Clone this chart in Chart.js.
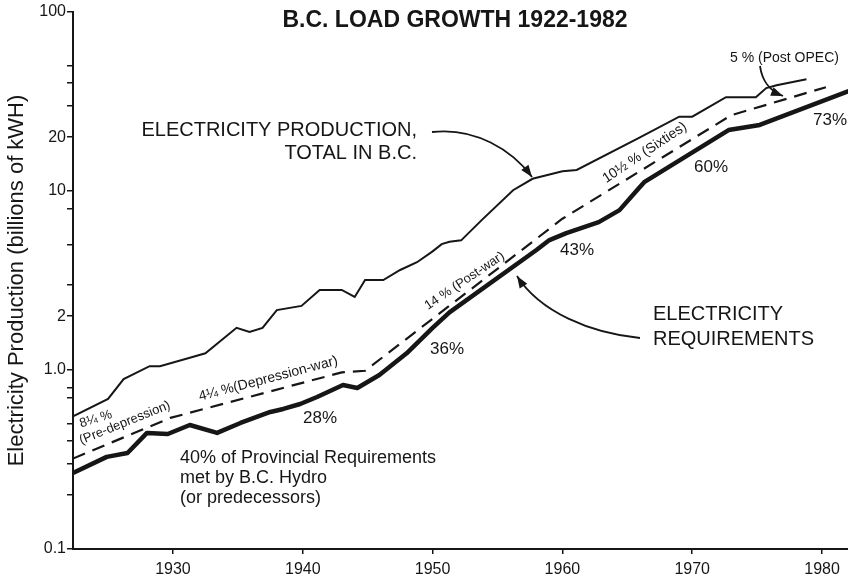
<!DOCTYPE html>
<html>
<head>
<meta charset="utf-8">
<script src="https://cdn.jsdelivr.net/npm/chart.js@4.4.1/dist/chart.umd.min.js"></script>
<style>
html, body { margin: 0; padding: 0; background: #fff; }
canvas { display: block; }
</style>
</head>
<body>
<canvas id="loadChart" width="848" height="579"></canvas>
<script>
/* DATA (billions of kWh, log scale) */
const prodYears  = [1922.3, 1925, 1926.2, 1928.2, 1929, 1931.3, 1932.5, 1934.9, 1935.9, 1936.9, 1938, 1939.9,
                    1941.3, 1943, 1944, 1944.8, 1946.2, 1947.5, 1948.8, 1950, 1950.7, 1951.3, 1952.2, 1953.8,
                    1956.2, 1957.7, 1960, 1961.1, 1965.9, 1969, 1970, 1972.6, 1974.9, 1975.7, 1976.5, 1978.8];
const prodValues = [0.55, 0.69, 0.89, 1.05, 1.05, 1.17, 1.24, 1.72, 1.63, 1.72, 2.16, 2.28,
                    2.8, 2.8, 2.56, 3.18, 3.18, 3.62, 4.0, 4.6, 5.05, 5.2, 5.3, 6.9,
                    10.1, 11.7, 12.9, 13.1, 19.8, 26, 26, 33.4, 33.4, 37.6, 39, 42.1];

const trendYears  = [1922.3, 1929.8, 1943, 1944.8, 1960, 1973, 1980.3];
const trendValues = [0.32, 0.54, 0.97, 0.99, 7.0, 26.5, 38];

const reqYears  = [1922.3, 1924.9, 1926.5, 1928, 1929.6, 1931.3, 1933.4, 1935.2, 1937.5, 1938.5, 1939.8,
                   1941.1, 1943.1, 1944.2, 1945.9, 1948, 1950, 1951.3, 1958, 1959, 1960.3, 1962.8, 1964.4,
                   1965.9, 1966.3, 1972.8, 1975.2, 1982];
const reqValues = [0.266, 0.327, 0.344, 0.445, 0.439, 0.493, 0.445, 0.506, 0.583, 0.606, 0.646,
                   0.707, 0.824, 0.793, 0.938, 1.24, 1.72, 2.1, 4.68, 5.32, 5.82, 6.7, 7.82,
                   10.4, 11.2, 21.9, 23.4, 36];

const xTickYears  = [1930, 1940, 1950, 1960, 1970, 1980];
const yTickValues = [0.1, 0.2, 0.3, 0.4, 0.5, 0.7, 0.8, 1, 2, 3, 5, 8, 10, 20, 30, 40, 50, 100];
const yLabelValues = [0.1, 1, 2, 10, 20, 100];
const yLabelText   = ['0.1', '1.0', '2', '10', '20', '100'];

const shareLabels = ['28%', '36%', '43%', '60%', '73%'];
const growthLabels = ['8¼ %', '(Pre-depression)', '4¼ %(Depression-war)', '14 % (Post-war)', '10½ % (Sixties)', '5 % (Post OPEC)'];

const INK  = '#161616';
const FONT = '"Liberation Sans", Arial, Helvetica, sans-serif';

const toXY = (xs, ys) => xs.map((x, i) => ({x: x, y: ys[i]}));

/* ── helpers for the annotations ── */
function text(ctx, s, x, y, size, align, angle) {
    ctx.save();
    ctx.font = size + 'px ' + FONT;
    ctx.fillStyle = INK;
    ctx.textAlign = align || 'left';
    ctx.textBaseline = 'middle';
    ctx.translate(x, y);
    if (angle) ctx.rotate(angle * Math.PI / 180);
    ctx.fillText(s, 0, 0);
    ctx.restore();
}

function curvedArrow(ctx, p0, c1, c2, p1) {
    ctx.save();
    ctx.strokeStyle = INK;
    ctx.fillStyle = INK;
    ctx.lineWidth = 1.8;
    ctx.beginPath();
    ctx.moveTo(p0[0], p0[1]);
    ctx.bezierCurveTo(c1[0], c1[1], c2[0], c2[1], p1[0], p1[1]);
    ctx.stroke();
    const a = Math.atan2(p1[1] - c2[1], p1[0] - c2[0]);
    const len = 12, half = 4.5;
    ctx.beginPath();
    ctx.moveTo(p1[0], p1[1]);
    ctx.lineTo(p1[0] - len * Math.cos(a) + half * Math.sin(a), p1[1] - len * Math.sin(a) - half * Math.cos(a));
    ctx.lineTo(p1[0] - len * Math.cos(a) - half * Math.sin(a), p1[1] - len * Math.sin(a) + half * Math.cos(a));
    ctx.closePath();
    ctx.fill();
    ctx.restore();
}

const annotations = {
    id: 'annotations',
    afterDraw(chart) {
        const ctx = chart.ctx;

        ctx.save();
        ctx.font = 'bold 23px ' + FONT;
        ctx.fillStyle = INK;
        ctx.textAlign = 'center';
        ctx.textBaseline = 'middle';
        ctx.fillText('B.C. LOAD GROWTH 1922-1982', 455, 21);
        ctx.restore();

        text(ctx, 'ELECTRICITY PRODUCTION,', 417, 130, 20, 'right');
        text(ctx, 'TOTAL IN B.C.', 417, 153, 20, 'right');
        curvedArrow(ctx, [432, 132], [475, 127], [512, 150], [532, 177]);

        text(ctx, 'ELECTRICITY', 653, 314, 20);
        text(ctx, 'REQUIREMENTS', 653, 339, 20);
        curvedArrow(ctx, [640, 338], [590, 333], [540, 312], [517, 276]);

        text(ctx, growthLabels[5], 730, 58, 14);
        curvedArrow(ctx, [760, 66], [762, 80], [768, 90], [783, 96]);

        text(ctx, '40% of Provincial Requirements', 180, 458, 18);
        text(ctx, 'met by B.C. Hydro', 180, 478, 18);
        text(ctx, '(or predecessors)', 180, 498, 18);

        const sharePos = [[320, 418], [447, 349], [577, 250], [711, 167], [830, 120]];
        shareLabels.forEach((s, i) => text(ctx, s, sharePos[i][0], sharePos[i][1], 17, 'center'));

        text(ctx, growthLabels[0], 80, 424, 13, 'left', -17);
        text(ctx, growthLabels[1], 80, 441, 13, 'left', -22);
        text(ctx, growthLabels[2], 199, 397, 14, 'left', -14.7);
        text(ctx, growthLabels[3], 426, 307, 13, 'left', -34);
        text(ctx, growthLabels[4], 604, 180, 14, 'left', -33.8);
    }
};

new Chart(document.getElementById('loadChart'), {
    type: 'line',
    data: {
        datasets: [
            {label: 'Electricity production, total in B.C.', data: toXY(prodYears, prodValues),
             borderColor: INK, borderWidth: 2, pointRadius: 0, tension: 0, fill: false},
            {label: 'Growth trend', data: toXY(trendYears, trendValues),
             borderColor: INK, borderWidth: 2.2, borderDash: [13, 8], pointRadius: 0, tension: 0, fill: false},
            {label: 'Electricity requirements', data: toXY(reqYears, reqValues),
             borderColor: INK, borderWidth: 4.5, pointRadius: 0, tension: 0, fill: false,
             borderJoinStyle: 'round', borderCapStyle: 'round'}
        ]
    },
    options: {
        responsive: false,
        animation: false,
        layout: {padding: {top: 12, right: 0, bottom: 0, left: 0}},
        plugins: {legend: {display: false}, tooltip: {enabled: false}},
        scales: {
            x: {
                type: 'linear', min: 1922.3, max: 1982,
                afterBuildTicks: s => { s.ticks = xTickYears.map(v => ({value: v})); },
                afterFit: s => { s.height = 30; },
                ticks: {autoSkip: false, maxRotation: 0, padding: 6, color: INK,
                        font: {family: FONT, size: 16}, callback: v => String(v)},
                grid: {drawOnChartArea: false, drawTicks: true, tickLength: 5, color: INK, lineWidth: 1.5},
                border: {display: true, color: INK, width: 2}
            },
            y: {
                type: 'logarithmic', min: 0.1, max: 100,
                afterBuildTicks: s => { s.ticks = yTickValues.map(v => ({value: v})); },
                afterFit: s => { s.width = 73; },
                ticks: {autoSkip: false, padding: 1, color: INK, font: {family: FONT, size: 16},
                        callback: v => {
                            const i = yLabelValues.indexOf(v);
                            return i >= 0 ? yLabelText[i] : '';
                        }},
                grid: {drawOnChartArea: false, drawTicks: true, tickLength: 6, color: INK, lineWidth: 1.5},
                border: {display: true, color: INK, width: 2},
                title: {display: true, text: 'Electricity Production (billions of kWH)', color: INK,
                        font: {family: FONT, size: 22}, padding: {top: 4, bottom: 0}}
            }
        }
    },
    plugins: [annotations]
});
</script>
</body>
</html>
